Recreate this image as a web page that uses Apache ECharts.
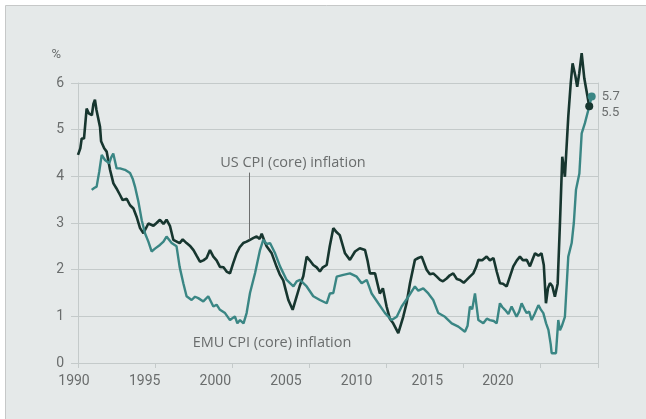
<!DOCTYPE html>
<html>
<head>
<meta charset="utf-8">
<script src="https://cdn.jsdelivr.net/npm/echarts@6/dist/echarts.min.js"></script>
<style>
html,body{margin:0;padding:0;background:#ffffff;}
#chart{width:646px;height:419px;}
</style>
</head>
<body>
<div id="chart"></div>
<script>
// ---- data ----
const usYears = [1990.00,1990.15,1990.24,1990.39,1990.56,1990.70,1990.90,1991.00,1991.10,1991.20,1991.43,1991.50,1991.70,1991.86,1992.08,1992.30,1992.50,1992.73,1992.90,1993.16,1993.38,1993.60,1993.81,1994.03,1994.25,1994.57,1994.90,1995.10,1995.32,1995.55,1995.75,1995.97,1996.19,1996.60,1996.80,1997.05,1997.30,1997.50,1997.70,1997.92,1998.14,1998.35,1998.57,1998.79,1999.00,1999.22,1999.45,1999.65,1999.87,2000.08,2000.30,2000.50,2000.73,2000.95,2001.17,2001.40,2001.60,2001.80,2001.93,2002.10,2002.25,2002.58,2002.90,2003.10,2003.33,2003.50,2003.66,2003.94,2004.20,2004.40,2004.63,2004.85,2005.05,2005.28,2005.50,2005.71,2005.90,2006.15,2006.35,2006.58,2006.80,2007.00,2007.34,2007.66,2007.99,2008.30,2008.64,2008.80,2008.96,2009.29,2009.60,2009.80,2010.04,2010.25,2010.47,2010.80,2011.12,2011.35,2011.56,2011.88,2012.10,2012.32,2012.64,2012.85,2013.07,2013.30,2013.51,2013.70,2013.94,2014.15,2014.37,2014.60,2014.81,2015.05,2015.24,2015.45,2015.67,2015.85,2016.00,2016.25,2016.54,2016.75,2016.98,2017.20,2017.40,2017.60,2017.84,2018.05,2018.27,2018.50,2018.70,2018.90,2019.14,2019.35,2019.50,2019.68,2019.90,2020.10,2020.25,2020.39,2020.52,2020.65,2020.80,2020.97,2021.15,2021.30,2021.45,2021.62,2021.84,2022.00,2022.12,2022.30,2022.42,2022.55,2022.71,2022.88,2023.04,2023.20];
const usValues = [4.46,4.6,4.81,4.81,5.45,5.35,5.31,5.55,5.64,5.42,5.06,4.75,4.6,4.53,4.14,3.85,3.74,3.6,3.49,3.52,3.38,3.31,3.13,2.89,2.78,2.99,2.94,3.0,3.07,2.98,3.07,2.94,2.64,2.57,2.65,2.57,2.5,2.42,2.3,2.17,2.2,2.25,2.42,2.28,2.2,2.06,2.05,1.96,1.92,2.14,2.35,2.48,2.57,2.6,2.64,2.68,2.71,2.66,2.77,2.62,2.5,2.35,2.06,1.9,1.77,1.55,1.35,1.14,1.43,1.65,1.86,2.28,2.2,2.1,2.05,1.96,2.05,2.1,2.5,2.89,2.8,2.74,2.35,2.21,2.39,2.46,2.42,2.2,1.92,1.92,1.49,1.6,1.21,0.95,0.85,0.64,0.99,1.3,1.71,2.21,2.25,2.28,2.0,1.9,1.92,1.85,1.78,1.75,1.81,1.88,1.92,1.8,1.78,1.72,1.78,1.85,1.92,2.05,2.21,2.2,2.28,2.2,2.25,1.95,1.71,1.7,1.64,1.85,2.07,2.2,2.28,2.2,2.21,2.07,2.2,2.35,2.3,2.35,2.1,1.28,1.6,1.71,1.65,1.42,1.7,3.0,4.42,3.99,5.28,6.0,6.42,6.15,5.92,6.2,6.64,6.1,5.8,5.5];

const emuYears = [1990.89,1991.05,1991.21,1991.38,1991.54,1991.75,1992.03,1992.15,1992.29,1992.51,1992.73,1993.05,1993.38,1993.55,1993.70,1993.92,1994.14,1994.35,1994.57,1994.78,1995.00,1995.32,1995.55,1995.75,1996.08,1996.40,1996.60,1996.84,1997.05,1997.38,1997.60,1997.81,1998.14,1998.46,1998.79,1999.00,1999.22,1999.55,1999.87,2000.19,2000.35,2000.52,2000.75,2000.95,2001.17,2001.50,2001.82,2002.03,2002.25,2002.47,2002.80,2003.12,2003.55,2003.99,2004.20,2004.42,2004.85,2005.28,2005.71,2006.15,2006.36,2006.58,2006.80,2007.23,2007.66,2008.10,2008.42,2008.75,2009.07,2009.50,2009.94,2010.37,2010.70,2011.02,2011.45,2011.88,2012.10,2012.42,2012.75,2013.07,2013.40,2013.83,2014.27,2014.70,2015.13,2015.30,2015.45,2015.60,2015.78,2016.00,2016.32,2016.55,2016.75,2017.00,2017.19,2017.40,2017.55,2017.73,2017.95,2018.16,2018.48,2018.65,2018.81,2019.00,2019.14,2019.30,2019.46,2019.65,2019.90,2020.05,2020.22,2020.40,2020.55,2020.70,2020.76,2021.04,2021.19,2021.30,2021.41,2021.62,2021.84,2022.06,2022.20,2022.34,2022.56,2022.71,2022.92,2023.14,2023.36];
const emuValues = [3.71,3.75,3.78,4.1,4.46,4.35,4.28,4.4,4.49,4.17,4.17,4.14,4.07,3.95,3.78,3.46,3.06,2.78,2.6,2.39,2.45,2.53,2.6,2.71,2.57,2.5,2.06,1.71,1.43,1.35,1.42,1.39,1.32,1.43,1.21,1.25,1.14,1.07,0.92,1.0,0.85,0.92,0.85,1.07,1.5,1.93,2.42,2.64,2.55,2.57,2.35,2.07,1.78,1.64,1.75,1.78,1.64,1.43,1.35,1.28,1.49,1.5,1.85,1.89,1.92,1.85,1.71,1.78,1.49,1.28,1.07,0.92,0.99,1.21,1.42,1.64,1.55,1.6,1.49,1.35,1.07,0.99,0.85,0.78,0.67,0.8,1.21,1.15,1.49,0.92,0.85,0.95,0.92,0.9,0.85,1.28,1.2,1.14,1.05,1.21,0.99,1.1,1.28,1.15,1.07,1.1,0.92,1.05,1.24,1.15,1.07,0.85,0.71,0.4,0.21,0.21,0.92,0.7,0.78,0.99,2.28,2.57,3.0,3.71,4.06,4.92,5.14,5.42,5.71];

const yTicks = [0,1,2,3,4,5,6];
const xTickYears = [1990,1995,2000,2005,2010,2015,2020];
const usLabel = 'US CPI (core) inflation';
const emuLabel = 'EMU CPI (core) inflation';
const unitLabel = '%';

// annotation anchors (data space)
const usLabelAt = [2003.96, 4.29];
const usPointer = [[2001.1, 2.65], [2001.1, 4.08]];
const emuLabelAt = [2002.6, 0.43];

const usColor = '#17362f';
const emuColor = '#3a8684';
const gridColor = '#c4caca';
const textColor = '#6a6d6d';
const FONT = 'Roboto';
const NOTE_FONT = 'Open Sans';

const usData = usYears.map((t, i) => [t, usValues[i]]);
const emuData = emuYears.map((t, i) => [t, emuValues[i]]);
const usLast = usData[usData.length - 1];
const emuLast = emuData[emuData.length - 1];

const chart = echarts.init(document.getElementById('chart'), null, {renderer: 'canvas'});
chart.setOption({
  animation: false,
  backgroundColor: '#ffffff',
  graphic: [{
    type: 'rect', z: -10, silent: true,
    shape: {x: 5.5, y: 5.5, width: 660, height: 440},
    style: {fill: '#e5e9e9', stroke: '#c6c8c8', lineWidth: 1}
  }],
  grid: {left: 78, right: 48, top: 83, bottom: 56, containLabel: false},
  xAxis: [{
    type: 'value', min: 1990, max: 2023.77, interval: 5,
    axisLine: {show: true, lineStyle: {color: gridColor, width: 1}},
    axisTick: {show: true, length: 5, lineStyle: {color: gridColor}},
    axisLabel: {show: false},
    splitLine: {show: false}
  }, {
    type: 'value', min: 1990, max: 2026.8, position: 'bottom',
    axisLine: {show: false}, axisTick: {show: false}, splitLine: {show: false},
    axisLabel: {
      show: true, customValues: xTickYears, margin: 11, padding: [0, 8, 0, 0],
      color: textColor, fontFamily: FONT, fontSize: 14,
      formatter: v => String(Math.round(v))
    }
  }],
  yAxis: [{
    type: 'value', min: 0, max: 6, interval: 1,
    name: unitLabel, nameLocation: 'end', nameGap: 22,
    nameTextStyle: {color: textColor, fontFamily: FONT, fontSize: 13, align: 'right', padding: [0, 17, 0, 0]},
    axisLine: {show: true, lineStyle: {color: gridColor}},
    axisTick: {show: true, length: 7, lineStyle: {color: gridColor}},
    axisLabel: {color: textColor, fontFamily: FONT, fontSize: 14, margin: 14, formatter: v => yTicks.includes(v) ? String(v) : ''},
    splitLine: {show: true, lineStyle: {color: gridColor, width: 1}}
  }, {
    type: 'value', min: 0, max: 6, interval: 1, position: 'right',
    axisLine: {show: true, lineStyle: {color: gridColor}},
    axisTick: {show: false}, axisLabel: {show: false}, splitLine: {show: false}
  }],
  series: [{
    name: usLabel, type: 'line', data: usData, xAxisIndex: 0, yAxisIndex: 0,
    showSymbol: false, clip: false, z: 3,
    lineStyle: {color: usColor, width: 2.6},
    endLabel: {show: true, formatter: p => p.value[1].toFixed(1), distance: 12, offset: [0, 6],
      color: textColor, fontFamily: FONT, fontSize: 13},
    markLine: {
      silent: true, symbol: ['none', 'none'], label: {show: false},
      lineStyle: {color: '#6d6f6f', width: 1, type: 'solid'},
      data: [[{coord: usPointer[0]}, {coord: usPointer[1]}]]
    },
    markPoint: {
      silent: true,
      data: [
        {coord: usLabelAt, symbolSize: 0, label: {show: true, position: 'inside', formatter: usLabel,
          color: textColor, fontFamily: NOTE_FONT, fontSize: 14.5}},
        {coord: usLast, symbol: 'circle', symbolSize: 8, itemStyle: {color: usColor}, label: {show: false}}
      ]
    }
  }, {
    name: emuLabel, type: 'line', data: emuData, xAxisIndex: 0, yAxisIndex: 0,
    showSymbol: false, clip: false, z: 4,
    lineStyle: {color: emuColor, width: 2.4},
    endLabel: {show: true, formatter: p => p.value[1].toFixed(1), distance: 10, offset: [0, 0],
      color: textColor, fontFamily: FONT, fontSize: 13},
    markPoint: {
      silent: true,
      data: [
        {coord: emuLabelAt, symbolSize: 0, label: {show: true, position: 'inside', formatter: emuLabel,
          color: textColor, fontFamily: NOTE_FONT, fontSize: 14.5}},
        {coord: emuLast, symbol: 'circle', symbolSize: 8, itemStyle: {color: emuColor}, label: {show: false}}
      ]
    }
  }]
});
</script>
</body>
</html>
